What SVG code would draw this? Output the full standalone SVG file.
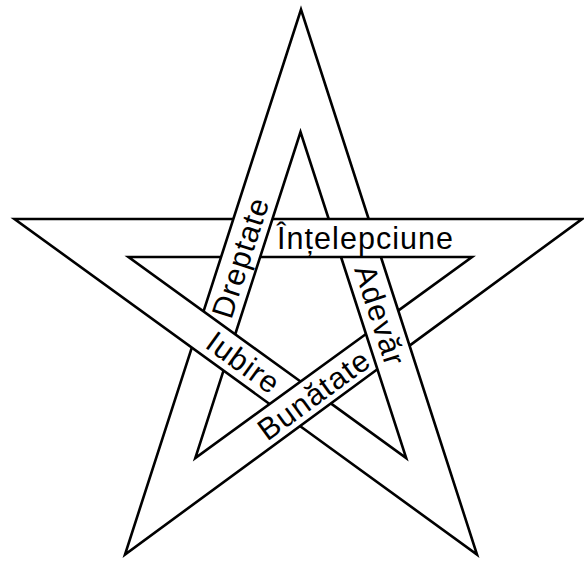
<svg xmlns="http://www.w3.org/2000/svg" width="584" height="563" viewBox="0 0 584 563">
<style>
.edge{fill:none;stroke:#000;stroke-width:2.6;stroke-linejoin:miter;stroke-miterlimit:6;stroke-linecap:butt}
.lbl{font-family:"Liberation Sans",Arial,sans-serif;font-size:30.5px;fill:#000}
</style>
<rect width="584" height="563" fill="#fff"/>
<g id="connectors">
<path class="edge" d="M203.54 311.31 L301 9.5 L368.66 219"/>
<path class="edge" d="M235.23 334.25 L300.5 132 L328.71 219"/>
<path class="edge" d="M233.35 219 L14.5 219 L269.58 404.04"/>
<path class="edge" d="M221.07 257 L128.5 257 L300.56 381.54"/>
<path class="edge" d="M272.43 219 L582 219 L409.54 345.61"/>
<path class="edge" d="M260.16 257 L472 257 L398.23 310.59"/>
<path class="edge" d="M191.81 347.62 L125 554.5 L377.41 369.2"/>
<path class="edge" d="M223.5 370.61 L195.3 458 L366 334"/>
<path class="edge" d="M380.93 257 L477 554.5 L299.95 426.07"/>
<path class="edge" d="M341.03 257 L406.2 458 L330.79 403.42"/>
</g>
<g id="intelepciune"><text class="lbl" x="277" y="248.5" textLength="176">Înțelepciune</text></g>
<g id="dreptate" transform="translate(240.3 258) rotate(-72.1)"><text class="lbl" x="-62" y="10.5" textLength="124">Dreptate</text></g>
<g id="adevar" transform="translate(379.75 315) rotate(72.05)"><text class="lbl" x="-51.5" y="10.5" textLength="103">Adevăr</text></g>
<g id="iubire" transform="translate(243 362.3) rotate(35.9)"><text class="lbl" x="-41" y="10.5" textLength="82">Iubire</text></g>
<g id="bunatate" transform="translate(313.5 395) rotate(-36.1)"><text class="lbl" x="-65" y="10.5" textLength="130">Bunătate</text></g>
</svg>
